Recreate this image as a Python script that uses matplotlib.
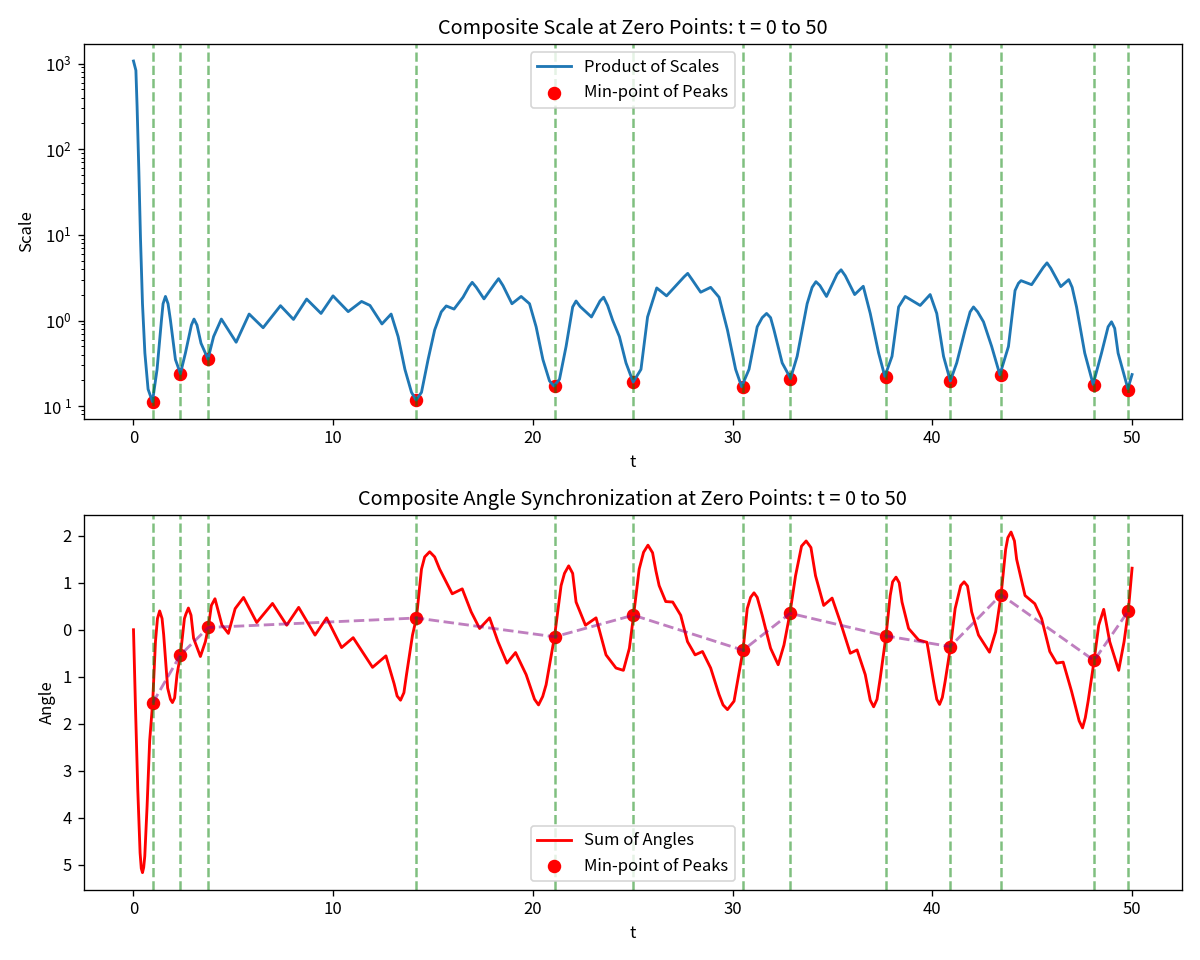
import matplotlib
matplotlib.use("Agg")
import matplotlib.pyplot as plt
from matplotlib.ticker import FuncFormatter
import numpy as np

plt.rcParams['font.family'] = ['Noto Sans CJK JP', 'DejaVu Sans']

# ---- data ----
zero_points = [0.96, 2.35, 3.75, 14.17, 21.09, 25.03, 30.52, 32.88, 37.66,
               40.89, 43.44, 48.10, 49.80]

scale_t = [0.0, 0.12, 0.18, 0.27, 0.35, 0.45, 0.57, 0.73, 0.95, 1.18, 1.40, 1.48,
           1.60, 1.73, 1.85, 2.10, 2.35, 2.60, 2.90, 3.03, 3.18, 3.38, 3.73, 4.01,
           4.40, 5.14, 5.79, 6.49, 7.36, 8.01, 8.67, 9.39, 9.99, 10.75, 11.42, 11.84,
           12.44, 12.90, 13.25, 13.59, 13.92, 14.15, 14.42, 14.75, 15.08, 15.41,
           15.66, 16.05, 16.50, 16.80, 16.96, 17.16, 17.55, 18.08, 18.28, 18.50,
           18.95, 19.41, 19.83, 20.16, 20.50, 20.83, 21.05, 21.33, 21.66, 21.99,
           22.16, 22.36, 22.93, 23.36, 23.54, 23.74, 23.99, 24.33, 24.66, 25.02,
           25.41, 25.74, 26.20, 26.69, 27.24, 27.57, 27.75, 27.95, 28.40, 28.90,
           29.32, 29.74, 30.15, 30.45, 30.82, 31.23, 31.48, 31.70, 31.90, 32.07,
           32.48, 32.90, 33.23, 33.73, 33.98, 34.17, 34.37, 34.70, 35.23, 35.43,
           35.64, 36.11, 36.54, 36.89, 37.31, 37.62, 37.98, 38.31, 38.64, 39.39,
           39.89, 40.22, 40.56, 40.90, 41.22, 41.64, 41.89, 42.06, 42.27, 42.56,
           42.97, 43.38, 43.81, 44.14, 44.31, 44.44, 44.97, 45.55, 45.74, 45.93,
           46.43, 46.83, 47.00, 47.22, 47.63, 48.05, 48.47, 48.80, 48.97, 49.13,
           49.30, 49.79, 50.0]
scale_v = [1070, 832, 316, 53.7, 9.12, 1.57, 0.417, 0.158, 0.113, 0.269, 1.01, 1.57,
           1.91, 1.57, 1.01, 0.35, 0.24, 0.417, 0.885, 1.04, 0.885, 0.543, 0.355, 0.649,
           1.04, 0.558, 1.19, 0.824, 1.49, 1.03, 1.78, 1.21, 1.94, 1.27, 1.67, 1.50,
           0.912, 1.19, 0.649, 0.269, 0.145, 0.118, 0.145, 0.35, 0.776, 1.26,
           1.48, 1.36, 1.87, 2.49, 2.79, 2.45, 1.79, 2.67, 3.08, 2.56,
           1.57, 1.91, 1.57, 0.845, 0.35, 0.197, 0.172, 0.206, 0.498, 1.44,
           1.69, 1.46, 1.10, 1.69, 1.87, 1.50, 1.01, 0.649, 0.32, 0.191,
           0.269, 1.10, 2.40, 1.94, 2.67, 3.24, 3.55, 3.05, 2.14, 2.44,
           1.87, 0.776, 0.269, 0.169, 0.269, 0.845, 1.08, 1.21, 1.08, 0.776,
           0.32, 0.211, 0.382, 1.57, 2.44, 2.84, 2.56, 1.91, 3.48, 3.91,
           3.33, 2.01, 2.51, 1.21, 0.417, 0.223, 0.382, 1.44, 1.91, 1.50,
           2.01, 1.21, 0.382, 0.197, 0.32, 0.776, 1.26, 1.44, 1.26, 0.966,
           0.498, 0.233, 0.498, 2.24, 2.72, 2.92, 2.62, 4.16, 4.71, 4.08,
           2.49, 3.00, 2.44, 1.44, 0.417, 0.180, 0.417, 0.845, 0.966, 0.81,
           0.417, 0.160, 0.234]
scale_min = [0.113, 0.239, 0.352, 0.118, 0.172, 0.191, 0.168, 0.209, 0.220,
             0.195, 0.231, 0.175, 0.155]

angle_t = [0.0, 0.10, 0.215, 0.33, 0.39, 0.45, 0.51, 0.565, 0.68, 0.81, 0.96, 1.10,
           1.20, 1.31, 1.43, 1.51, 1.71, 1.85, 1.95, 2.06, 2.18, 2.35, 2.55, 2.63,
           2.75, 2.88, 3.01, 3.35, 3.60, 3.75, 3.90, 4.08, 4.43, 4.75, 5.09, 5.51,
           6.17, 6.96, 7.67, 8.27, 9.09, 9.67, 10.42, 11.0, 11.97, 12.64, 13.05,
           13.20, 13.37, 13.54, 13.67, 13.97, 14.17, 14.42, 14.58, 14.83, 15.08,
           15.33, 15.96, 16.46, 16.91, 17.33, 17.83, 18.25, 18.70, 19.13, 19.66,
           20.08, 20.28, 20.49, 20.66, 21.08, 21.41, 21.58, 21.79, 21.99, 22.16,
           22.63, 23.16, 23.66, 24.16, 24.53, 24.83, 25.04, 25.32, 25.54, 25.76,
           25.99, 26.16, 26.32, 26.65, 27.0, 27.40, 27.74, 28.12, 28.49, 28.90,
           29.32, 29.52, 29.74, 30.07, 30.52, 30.73, 30.90, 31.07, 31.23, 31.48,
           31.90, 32.28, 32.57, 32.87, 33.15, 33.45, 33.68, 33.92, 34.15, 34.56,
           34.98, 35.39, 35.89, 36.23, 36.64, 36.89, 37.06, 37.23, 37.39, 37.68,
           37.89, 38.01, 38.18, 38.34, 38.48, 38.81, 39.31, 39.73, 39.81, 40.06,
           40.22, 40.36, 40.50, 40.64, 40.91, 41.14, 41.42, 41.59, 41.76, 41.97,
           42.31, 42.86, 43.17, 43.44, 43.67, 43.78, 43.94, 44.11, 44.22, 44.64,
           45.13, 45.47, 45.88, 46.22, 46.55, 46.97, 47.35, 47.52, 47.66, 47.80,
           48.10, 48.33, 48.58, 48.88, 49.33, 49.60, 49.81, 50.0]
angle_v = [0.0, -1.66, -3.41, -4.75, -5.08, -5.17, -5.06, -4.82, -3.76, -2.36, -1.55, -0.25,
           0.24, 0.40, 0.24, -0.10, -1.24, -1.48, -1.55, -1.45, -0.955, -0.535, 0.238, 0.34,
           0.463, 0.31, -0.183, -0.569, -0.253, 0.063, 0.518, 0.66, 0.097, -0.078, 0.449, 0.687,
           0.154, 0.56, 0.097, 0.476, -0.114, 0.253, -0.379, -0.169, -0.80, -0.556, -1.15,
           -1.41, -1.50, -1.34, -0.955, -0.113, 0.26, 1.29, 1.55, 1.66, 1.55,
           1.29, 0.765, 0.87, 0.379, 0.027, 0.253, -0.253, -0.71, -0.485, -0.955,
           -1.48, -1.60, -1.42, -1.17, -0.148, 0.94, 1.20, 1.36, 1.20, 0.59,
           0.097, 0.253, -0.535, -0.815, -0.864, -0.394, 0.308, 1.29, 1.65, 1.80,
           1.64, 1.25, 0.94, 0.60, 0.59, 0.308, -0.253, -0.535, -0.463, -0.815,
           -1.38, -1.60, -1.70, -1.52, -0.436, 0.449, 0.69, 0.786, 0.69, 0.308,
           -0.394, -0.745, -0.324, 0.35, 1.15, 1.78, 1.89, 1.75, 1.15, 0.518,
           0.674, 0.168, -0.5, -0.43, -0.955, -1.50, -1.64, -1.48, -1.03, -0.127,
           0.729, 1.02, 1.12, 1.00, 0.59, 0.027, -0.218, -0.267, -0.463, -1.10,
           -1.48, -1.59, -1.44, -1.10, -0.358, 0.449, 0.94, 1.02, 0.93, 0.379,
           -0.113, -0.478, -0.042, 0.744, 1.71, 1.96, 2.08, 1.89, 1.50, 0.729,
           0.554, 0.238, -0.463, -0.71, -0.689, -1.31, -1.94, -2.09, -1.87, -1.52,
           -0.654, 0.097, 0.434, -0.253, -0.864, -0.253, 0.392, 1.31]
angle_min = [-1.56, -0.535, 0.048, 0.25, -0.15, 0.31, -0.436, 0.35, -0.13,
             -0.358, 0.744, -0.654, 0.392]

# ---- figure ----
fig, (ax1, ax2) = plt.subplots(2, 1, figsize=(10, 8), dpi=120)

ax1.plot(scale_t, scale_v, color='#1f77b4', lw=1.7, label='Product of Scales')
ax1.scatter(zero_points, scale_min, color='red', s=50, label='Min-point of Peaks')
for z in zero_points:
    ax1.axvline(z, color='green', linestyle='--', alpha=0.5, lw=1.5)
ax1.set_yscale('log')
ax1.set_title('Composite Scale at Zero Points: t = 0 to 50')
ax1.set_xlabel('t')
ax1.set_ylabel('Scale')
ax1.legend(loc='upper center')


def log_fmt(v, pos):
    e = int(round(np.log10(v)))
    if e < 0:
        return r'$\mathdefault{10^{\ %d}}$' % (-e)
    return r'$\mathdefault{10^{%d}}$' % e


ax1.yaxis.set_major_formatter(FuncFormatter(log_fmt))

ax2.plot(angle_t, angle_v, color='red', lw=1.7, label='Sum of Angles')
ax2.scatter(zero_points, angle_min, color='red', s=50, label='Min-point of Peaks')
ax2.plot(zero_points, angle_min, color='purple', linestyle='--', alpha=0.5, lw=1.7)
for z in zero_points:
    ax2.axvline(z, color='green', linestyle='--', alpha=0.5, lw=1.5)
ax2.set_title('Composite Angle Synchronization at Zero Points: t = 0 to 50')
ax2.set_xlabel('t')
ax2.set_ylabel('Angle')
ax2.legend(loc='lower center')
ax2.yaxis.set_major_formatter(FuncFormatter(lambda v, p: '%d' % abs(round(v))))

fig.tight_layout()
fig.savefig('out.png', dpi=120)
